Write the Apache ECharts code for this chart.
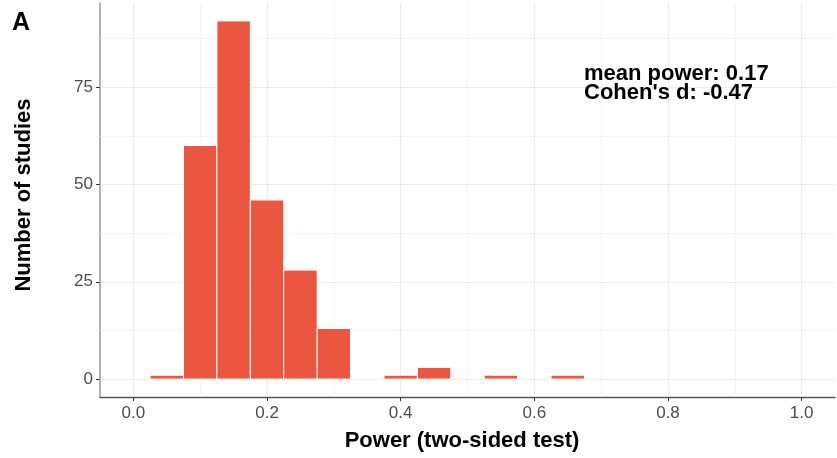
<!DOCTYPE html>
<html>
<head>
<meta charset="utf-8">
<script src="https://cdn.jsdelivr.net/npm/echarts@6/dist/echarts.min.js"></script>
<style>html,body{margin:0;padding:0;background:#fff}#c{width:837px;height:458px}</style>
</head>
<body>
<div id="c"></div>
<script>
// Histogram bins (centre of each 0.05-wide bin) and counts
const binCenters = [0.05, 0.10, 0.15, 0.20, 0.25, 0.30, 0.35, 0.40, 0.45, 0.50, 0.55, 0.60, 0.65];
const counts     = [1,    60,   92,   46,   28,   13,   0,    1,    3,    0,    1,    0,    1];
const binWidth = 0.05;
const xTicks = [0, 0.2, 0.4, 0.6, 0.8, 1.0];
const xMinorGrid = [0.1, 0.3, 0.5, 0.7, 0.9];
const yTicks = [0, 25, 50, 75];
const yMinorGrid = [12.5, 37.5, 62.5, 87.5];
const annotationLines = ['mean power: 0.17', "Cohen's d: -0.47"];

const FONT = '"Liberation Sans", Arial, sans-serif';
const chart = echarts.init(document.getElementById('c'), null, {renderer: 'canvas'});

const data = binCenters.map((c, i) => [c, counts[i]]).filter(d => d[1] > 0);

const gridLines = [].concat(
  xTicks.map(v => ({xAxis: v, lineStyle: {color: '#ebebeb', width: 1.2, type: 'solid'}})),
  xMinorGrid.map(v => ({xAxis: v, lineStyle: {color: '#f3f3f3', width: 1, type: 'solid'}})),
  yTicks.map(v => ({yAxis: v, lineStyle: {color: '#ebebeb', width: 1.2, type: 'solid'}})),
  yMinorGrid.map(v => ({yAxis: v, lineStyle: {color: '#f3f3f3', width: 1, type: 'solid'}}))
);

chart.setOption({
  animation: false,
  backgroundColor: '#fff',
  grid: {left: 100, right: 2, top: 3, bottom: 61},
  xAxis: {
    type: 'value', min: -0.05, max: 1.05,
    axisLine: {show: true, onZero: false, lineStyle: {color: '#555', width: 1.3}},
    axisTick: {show: true, customValues: xTicks, length: 4, lineStyle: {color: '#333'}},
    axisLabel: {customValues: xTicks, formatter: v => v.toFixed(1), color: '#4d4d4d', fontSize: 17, fontFamily: FONT, margin: 8},
    splitLine: {show: false}
  },
  yAxis: {
    type: 'value', min: -4.6, max: 96.6,
    axisLine: {show: true, onZero: false, lineStyle: {color: '#999', width: 1.5}},
    axisTick: {show: true, customValues: yTicks, length: 4, lineStyle: {color: '#333'}},
    axisLabel: {customValues: yTicks, color: '#4d4d4d', fontSize: 17, fontFamily: FONT, margin: 7},
    splitLine: {show: false}
  },
  series: [
    {
      type: 'line', data: [], silent: true,
      markLine: {silent: true, z: 1, symbol: 'none', label: {show: false}, animation: false,
        lineStyle: {type: 'solid'}, data: gridLines}
    },
    {
      type: 'custom', z: 10,
      data: data,
      renderItem: function (params, api) {
        const c = api.value(0), v = api.value(1);
        const p0 = api.coord([c - binWidth / 2, v]);
        const p1 = api.coord([c + binWidth / 2, 0]);
        return {
          type: 'rect',
          shape: {x: p0[0], y: p0[1], width: p1[0] - p0[0], height: p1[1] - p0[1]},
          style: {fill: '#EA5640', stroke: '#fff', lineWidth: 1}
        };
      }
    }
  ],
  graphic: [
    {type: 'text', z: 100, left: 12, top: 11, style: {text: 'A', font: 'bold 25px ' + FONT, fill: '#000'}},
    {type: 'text', z: 100, x: 462, y: 441, style: {text: 'Power (two-sided test)', font: 'bold 22px ' + FONT, fill: '#000', align: 'center', verticalAlign: 'middle'}},
    {type: 'text', z: 100, x: 24, y: 195, rotation: Math.PI / 2, style: {text: 'Number of studies', font: 'bold 22px ' + FONT, fill: '#000', align: 'center', verticalAlign: 'middle'}},
    {type: 'text', z: 100, x: 584, y: 74, style: {text: annotationLines[0], font: 'bold 22px ' + FONT, fill: '#000', verticalAlign: 'middle'}},
    {type: 'text', z: 100, x: 584, y: 93, style: {text: annotationLines[1], font: 'bold 22px ' + FONT, fill: '#000', verticalAlign: 'middle'}}
  ]
});
</script>
</body>
</html>
